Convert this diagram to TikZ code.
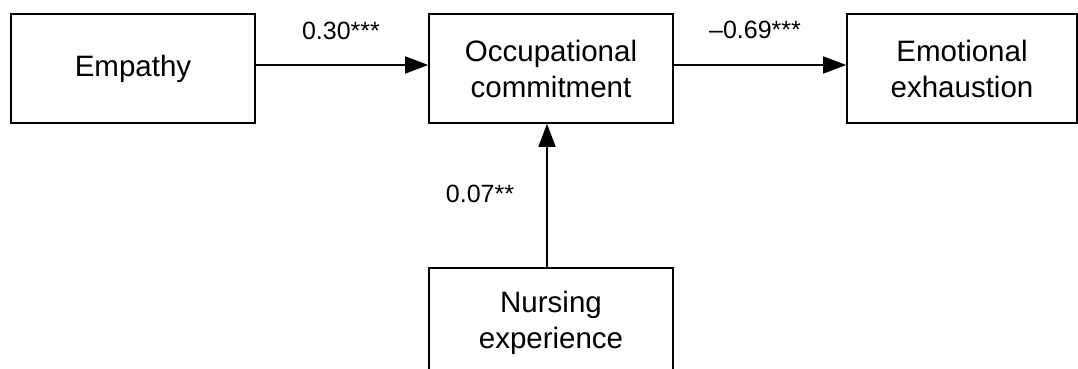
\documentclass[tikz,border=0pt]{standalone}
\usepackage{fontspec}
\setmainfont{Liberation Sans}
\usetikzlibrary{arrows.meta}
\begin{document}
\begin{tikzpicture}[x=1pt,y=-1pt,
  box/.style={draw,line width=1.6pt,minimum width=244pt,minimum height=109pt,inner sep=0pt,align=center,font=\fontsize{29.5}{36}\selectfont},
  conn/.style={line width=1.5pt,-{Triangle[length=23pt,width=17pt]}},
  lbl/.style={font=\fontsize{25}{30}\selectfont,inner sep=0pt}]
\useasboundingbox (0,0) rectangle (1078,369);
\node[box] (emp) at (133,68.5) {Empathy};
\node[box] (occ) at (551,68.5) {Occupational\\commitment};
\node[box,minimum width=230pt] (emo) at (962,68.5) {Emotional\\exhaustion};
\node[box] (nur) at (551,322.5) {Nursing\\experience};
\draw[conn] ([yshift=3.5pt]emp.east) -- ([yshift=3.5pt]occ.west);
\draw[conn] ([yshift=3.5pt]occ.east) -- ([yshift=3.5pt]emo.west);
\draw[conn] ([xshift=-4pt]nur.north) -- ([xshift=-4pt]occ.south);
\node[lbl,anchor=base] (l1) at (341,40) {0.30***};
\node[lbl,anchor=base] (l2) at (755,39) {–0.69***};
\node[lbl,anchor=base] (l3) at (480,202) {0.07**};
\end{tikzpicture}
\end{document}
